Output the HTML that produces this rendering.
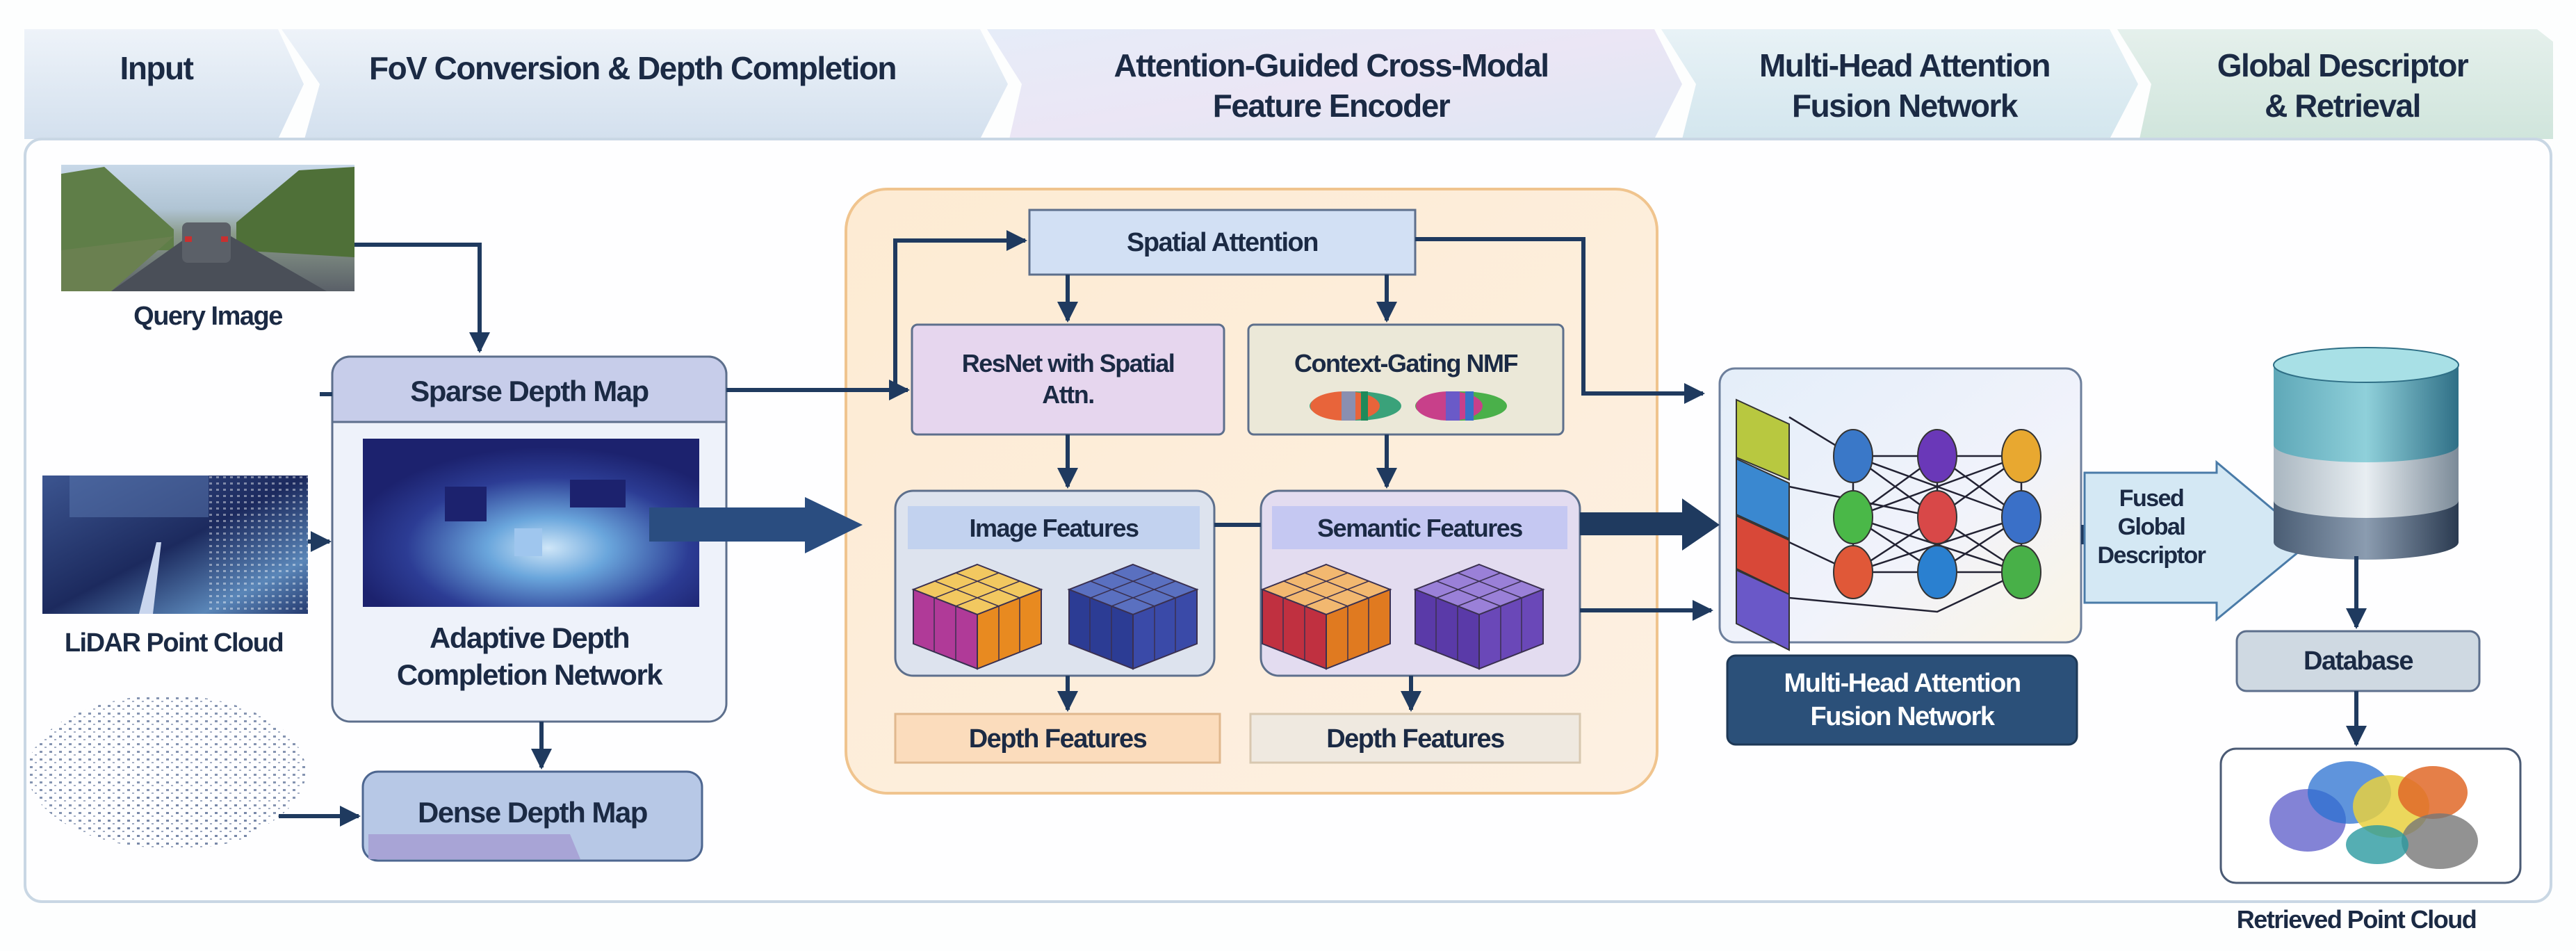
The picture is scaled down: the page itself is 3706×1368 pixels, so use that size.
<!DOCTYPE html>
<html><head><meta charset="utf-8"><style>
*{margin:0;padding:0;box-sizing:border-box}
body{width:3706px;height:1368px;background:#fdfefe;position:relative;overflow:hidden;font-family:"Liberation Sans",sans-serif;color:#1b2a44}
.t{position:absolute;font-weight:bold;text-align:center;letter-spacing:-1.5px;white-space:nowrap;line-height:1.25}
</style></head><body>
<svg width="3706" height="1368" style="position:absolute;left:0;top:0">
<defs>
<linearGradient id="h1" x1="0" y1="0" x2="0" y2="1"><stop offset="0" stop-color="#eef3f9"/><stop offset="1" stop-color="#d3e0ee"/></linearGradient>
<linearGradient id="h2" x1="0" y1="0" x2="1" y2="1"><stop offset="0" stop-color="#e6ecf8"/><stop offset=".5" stop-color="#ebe6f5"/><stop offset="1" stop-color="#dde6f3"/></linearGradient>
<linearGradient id="h3" x1="0" y1="0" x2="0" y2="1"><stop offset="0" stop-color="#e8f2f6"/><stop offset="1" stop-color="#d3e6ee"/></linearGradient>
<linearGradient id="h4" x1="0" y1="0" x2="0" y2="1"><stop offset="0" stop-color="#e5f0ec"/><stop offset="1" stop-color="#d0e5dc"/></linearGradient>
<linearGradient id="sky" x1="0" y1="0" x2="0" y2="1"><stop offset="0" stop-color="#c8d8e8"/><stop offset=".35" stop-color="#b0c4d4"/><stop offset=".55" stop-color="#8a9a8a"/><stop offset="1" stop-color="#5a6068"/></linearGradient>
<linearGradient id="lid" x1="0" y1="0" x2="1" y2="1"><stop offset="0" stop-color="#3c5590"/><stop offset=".5" stop-color="#1c2a5e"/><stop offset=".8" stop-color="#5a86b8"/><stop offset="1" stop-color="#253a70"/></linearGradient>
<radialGradient id="dep" cx=".55" cy=".65" r=".6"><stop offset="0" stop-color="#cfe6f8"/><stop offset=".3" stop-color="#6aa6dc"/><stop offset=".7" stop-color="#2c3c94"/><stop offset="1" stop-color="#1c226e"/></radialGradient>
<linearGradient id="orng" x1="0" y1="0" x2="1" y2="1"><stop offset="0" stop-color="#fdebd3"/><stop offset="1" stop-color="#fdf0e2"/></linearGradient>
<linearGradient id="db1" x1="0" y1="0" x2="1" y2="0"><stop offset="0" stop-color="#5fa8b8"/><stop offset=".5" stop-color="#8fd0da"/><stop offset="1" stop-color="#2f6f86"/></linearGradient>
<linearGradient id="db2" x1="0" y1="0" x2="1" y2="0"><stop offset="0" stop-color="#a9b6c0"/><stop offset=".5" stop-color="#e8eef2"/><stop offset="1" stop-color="#7b8a98"/></linearGradient>
<linearGradient id="db3" x1="0" y1="0" x2="1" y2="0"><stop offset="0" stop-color="#4a5d74"/><stop offset=".5" stop-color="#8b9cb0"/><stop offset="1" stop-color="#2a3a50"/></linearGradient>
<linearGradient id="mha" x1="0" y1="0" x2="1" y2="1"><stop offset="0" stop-color="#e4eef9"/><stop offset=".6" stop-color="#f1f3fb"/><stop offset="1" stop-color="#fbf4e4"/></linearGradient>
<marker id="a" viewBox="0 0 10 10" refX="9" refY="5" markerWidth="5" markerHeight="5" orient="auto"><path d="M0,0L10,5L0,10z" fill="#1f3a5f"/></marker>
<pattern id="pts" width="14" height="11" patternUnits="userSpaceOnUse"><rect x="1" y="2" width="4" height="3" fill="#7888a8"/><rect x="8" y="7" width="3" height="2" fill="#9aa6bf"/></pattern>
<pattern id="pts2" width="10" height="9" patternUnits="userSpaceOnUse"><rect x="1" y="1" width="4" height="3" fill="#fff" opacity=".6"/></pattern>
</defs>
<polygon points="35,42 400,42 437,121 400,200 35,200" fill="url(#h1)"/>
<polygon points="405,42 1410,42 1450,121 1410,200 438,200 460,121" fill="url(#h1)"/>
<polygon points="1420,42 2380,42 2420,121 2380,200 1452,200 1470,121" fill="url(#h2)"/>
<polygon points="2390,42 3035,42 3076,121 3035,200 2420,200 2440,121" fill="url(#h3)"/>
<polygon points="3046,42 3650,42 3673,60 3673,200 3078,200 3095,121" fill="url(#h4)"/>
<rect x="36" y="200" width="3634" height="1097" rx="24" fill="#fefeff" stroke="#c9d7e4" stroke-width="4"/>
<!-- query image -->
<rect x="88" y="237" width="422" height="182" fill="url(#sky)"/>
<polygon points="88,250 150,240 250,330 250,360 88,360" fill="#5f7e48"/>
<polygon points="510,240 430,245 340,320 340,360 510,370" fill="#4f7038"/>
<polygon points="160,419 285,330 315,330 470,419" fill="#4a4f58"/>
<polygon points="88,360 250,340 160,419 88,419" fill="#6a8050"/>
<rect x="262" y="320" width="70" height="58" rx="8" fill="#5b6068"/>
<rect x="266" y="340" width="10" height="8" fill="#c83030"/><rect x="318" y="340" width="10" height="8" fill="#c83030"/>
<!-- lidar -->
<rect x="61" y="684" width="382" height="199" fill="url(#lid)"/>
<rect x="100" y="684" width="200" height="60" fill="#5a78b0" opacity=".5"/>
<rect x="300" y="684" width="143" height="199" fill="url(#pts2)" opacity=".7"/>
<polygon points="200,883 225,780 232,780 220,883" fill="#c9d6ee"/>
<ellipse cx="240" cy="1110" rx="200" ry="110" fill="url(#pts)" opacity=".9"/>
<ellipse cx="260" cy="1180" rx="120" ry="40" fill="url(#pts)"/>
<rect x="1217" y="272" width="1167" height="869" rx="60" fill="url(#orng)" stroke="#f0c48e" stroke-width="4"/>
<g>
<rect x="478" y="513" width="567" height="525" rx="26" fill="#eef2fa" stroke="#5d6f8c" stroke-width="3"/>
<path d="M478,607 V539 a26,26 0 0 1 26,-26 H1019 a26,26 0 0 1 26,26 V607z" fill="#c7cdea" stroke="#5d6f8c" stroke-width="3"/>
<rect x="522" y="631" width="484" height="242" fill="url(#dep)"/>
<rect x="640" y="700" width="60" height="50" fill="#1c226e"/><rect x="820" y="690" width="80" height="40" fill="#1c226e"/><rect x="740" y="760" width="40" height="40" fill="#9fc6ee"/>
</g>
<rect x="522" y="1110" width="488" height="128" rx="22" fill="#b7c8e6" stroke="#4d6690" stroke-width="3"/>
<polygon points="530,1200 820,1200 835,1236 530,1236" fill="#a8a4d6"/>
<rect x="1481" y="302" width="555" height="93" fill="#d2e0f4" stroke="#5d6f8c" stroke-width="3"/>
<rect x="1312" y="467" width="449" height="158" rx="8" fill="#e6d6ee" stroke="#5d6f8c" stroke-width="3"/>
<rect x="1796" y="467" width="453" height="158" rx="8" fill="#ebe8d8" stroke="#5d6f8c" stroke-width="3"/>
<ellipse cx="1950" cy="584" rx="66" ry="21" fill="#3aa27a"/><ellipse cx="1935" cy="584" rx="50" ry="21" fill="#e8643a"/><rect x="1930" y="563" width="20" height="42" fill="#8a8fb0"/><rect x="1958" y="563" width="10" height="42" fill="#1f8a5a"/>
<ellipse cx="2102" cy="584" rx="66" ry="21" fill="#4ab04a"/><ellipse cx="2085" cy="584" rx="48" ry="21" fill="#c8408a"/><rect x="2080" y="563" width="20" height="42" fill="#6a5ac8"/><rect x="2108" y="563" width="12" height="42" fill="#3a70c8"/>
<rect x="1288" y="706" width="459" height="266" rx="26" fill="#dde3ee" stroke="#5d6f8c" stroke-width="3"/>
<rect x="1306" y="728" width="420" height="62" fill="#c2d2ef"/>
<rect x="1814" y="706" width="459" height="266" rx="26" fill="#e3dcf0" stroke="#5d6f8c" stroke-width="3"/>
<rect x="1830" y="728" width="425" height="62" fill="#c5c8f2"/>
<rect x="1288" y="1027" width="467" height="70" fill="#fbdcbc" stroke="#e0b88e" stroke-width="3"/>
<rect x="1799" y="1027" width="474" height="70" fill="#efe9e0" stroke="#d8c8b0" stroke-width="3"/>
<!-- cubes (taller) -->
<g stroke="#3a3050" stroke-width="2">
<polygon points="1406,812 1498,848 1406,884 1314,848" fill="#f2c860"/>
<polygon points="1314,848 1406,884 1406,962 1314,926" fill="#b03a98"/>
<polygon points="1406,884 1498,848 1498,926 1406,962" fill="#e88a20"/>
<path d="M1345,836 L1437,872 M1375,824 L1467,860 M1345,860 L1437,824 M1375,872 L1467,836 M1344,860 V938 M1375,872 V950 M1437,872 V950 M1467,860 V938" fill="none" stroke-width="1.5"/>
<polygon points="1630,812 1722,848 1630,884 1538,848" fill="#5a70c0"/>
<polygon points="1538,848 1630,884 1630,962 1538,926" fill="#2c3c94"/>
<polygon points="1630,884 1722,848 1722,926 1630,962" fill="#3a4aa8"/>
<path d="M1569,836 L1661,872 M1599,824 L1691,860 M1569,860 L1661,824 M1599,872 L1691,836 M1568,860 V938 M1599,872 V950 M1661,872 V950 M1691,860 V938" fill="none" stroke-width="1.5"/>
<polygon points="1908,812 2000,848 1908,884 1816,848" fill="#f2b870"/>
<polygon points="1816,848 1908,884 1908,962 1816,926" fill="#c03040"/>
<polygon points="1908,884 2000,848 2000,926 1908,962" fill="#e07a20"/>
<path d="M1847,836 L1939,872 M1877,824 L1969,860 M1847,860 L1939,824 M1877,872 L1969,836 M1846,860 V938 M1877,872 V950 M1939,872 V950 M1969,860 V938" fill="none" stroke-width="1.5"/>
<polygon points="2128,812 2220,848 2128,884 2036,848" fill="#9a80d8"/>
<polygon points="2036,848 2128,884 2128,962 2036,926" fill="#5a3aa8"/>
<polygon points="2128,884 2220,848 2220,926 2128,962" fill="#6a48b8"/>
<path d="M2067,836 L2159,872 M2097,824 L2189,860 M2067,860 L2159,824 M2097,872 L2189,836 M2066,860 V938 M2097,872 V950 M2159,872 V950 M2189,860 V938" fill="none" stroke-width="1.5"/>
</g>
<rect x="2474" y="530" width="520" height="394" rx="22" fill="url(#mha)" stroke="#6d7f9c" stroke-width="3"/>
<g stroke="#223" stroke-width="2.5" fill="none">
<path d="M2574,600 L2666,656 L2908,656 M2574,700 L2787,744 M2574,780 L2666,823 L2908,823 M2574,860 L2787,880 L2908,823 M2666,656 L2787,744 L2908,656 L2666,744 L2787,656 L2908,744 L2666,656 M2666,744 L2787,823 L2908,744 L2666,823 L2787,744 L2908,823 L2666,744 M2666,656 L2666,823 M2787,656 L2787,823 M2908,656 L2908,823"/>
</g>
<g stroke="#333" stroke-width="2">
<polygon points="2498,575 2574,610 2574,690 2498,658" fill="#b8c840"/>
<polygon points="2498,660 2574,695 2574,775 2498,740" fill="#3a88d0"/>
<polygon points="2498,742 2574,777 2574,855 2498,818" fill="#d84838"/>
<polygon points="2498,820 2574,855 2574,935 2498,897" fill="#6a58c8"/>
<ellipse cx="2666" cy="656" rx="28" ry="38" fill="#3a78c8"/><ellipse cx="2787" cy="656" rx="28" ry="38" fill="#6a38b8"/><ellipse cx="2908" cy="656" rx="28" ry="38" fill="#e8a830"/>
<ellipse cx="2666" cy="744" rx="28" ry="38" fill="#4ab848"/><ellipse cx="2787" cy="744" rx="28" ry="38" fill="#d84848"/><ellipse cx="2908" cy="744" rx="28" ry="38" fill="#3a70c8"/>
<ellipse cx="2666" cy="823" rx="28" ry="38" fill="#e05838"/><ellipse cx="2787" cy="823" rx="28" ry="38" fill="#2a80d0"/><ellipse cx="2908" cy="823" rx="28" ry="38" fill="#48b048"/>
</g>
<rect x="2485" y="943" width="503" height="128" rx="12" fill="#2b5079" stroke="#1d3856" stroke-width="3"/>
<rect x="2994" y="755" width="12" height="28" fill="#1f3a5f"/>
<polygon points="2999,680 3189,680 3189,665 3325,779 3189,891 3189,867 2999,867" fill="#d4e8f4" stroke="#4a7ba8" stroke-width="3"/>
<path d="M3271,720 V780 a133,25 0 0 0 266,0 V720z" fill="url(#db3)"/>
<path d="M3271,640 V720 a133,25 0 0 0 266,0 V640z" fill="url(#db2)"/>
<path d="M3271,525 V640 a133,25 0 0 0 266,0 V525z" fill="url(#db1)"/>
<ellipse cx="3404" cy="525" rx="133" ry="25" fill="#a8e0e6" stroke="#2f6f86" stroke-width="2"/>
<rect x="3218" y="908" width="349" height="86" rx="14" fill="#cfd9e2" stroke="#5d6f8c" stroke-width="3"/>
<rect x="3195" y="1077" width="431" height="193" rx="22" fill="#fff" stroke="#4a5a74" stroke-width="3"/>
<ellipse cx="3320" cy="1180" rx="55" ry="45" fill="#5a5ac8" opacity=".75"/>
<ellipse cx="3380" cy="1140" rx="60" ry="45" fill="#2a70d0" opacity=".75"/>
<ellipse cx="3440" cy="1160" rx="55" ry="45" fill="#e8d040" opacity=".85"/>
<ellipse cx="3500" cy="1140" rx="50" ry="38" fill="#e06828" opacity=".85"/>
<ellipse cx="3510" cy="1210" rx="55" ry="40" fill="#777" opacity=".8"/>
<ellipse cx="3420" cy="1215" rx="45" ry="28" fill="#2a9aa0" opacity=".8"/>
<g stroke="#1f3a5f" stroke-width="6" fill="none" marker-end="url(#a)">
<path d="M510,352 H690 V505"/>
<path d="M443,779 H474"/>
<path d="M779,1038 V1104"/>
<path d="M401,1174 H516"/>
<path d="M1045,561 H1306"/>
<path d="M1288,561 V346 H1475"/>
<path d="M1536,395 V461"/>
<path d="M1995,395 V461"/>
<path d="M2036,344 H2278 V566 H2450"/>
<path d="M1536,625 V700"/>
<path d="M1995,625 V700"/>
<path d="M1536,972 V1021"/>
<path d="M2030,972 V1021"/>
<path d="M2273,878 H2462"/>
<path d="M3390,800 V902"/>
<path d="M3390,994 V1071"/>
</g>
<path d="M460,567 H478" stroke="#1f3a5f" stroke-width="6"/>
<path d="M1747,755 H1814" stroke="#1f3a5f" stroke-width="6"/>
<polygon points="934,730 1158,730 1158,715 1241,755 1158,796 1158,779 934,779" fill="#2a4d80"/>
<polygon points="2273,737 2420,737 2420,717 2474,755 2420,792 2420,770 2273,770" fill="#1f3a5f"/>
</svg>
<div class="t" style="left:35px;width:380px;top:70px;font-size:46px">Input</div>
<div class="t" style="left:460px;width:900px;top:70px;font-size:46px">FoV Conversion &amp; Depth Completion</div>
<div class="t" style="left:1450px;width:930px;top:66px;font-size:46px">Attention-Guided Cross-Modal<br>Feature Encoder</div>
<div class="t" style="left:2430px;width:620px;top:66px;font-size:46px">Multi-Head Attention<br>Fusion Network</div>
<div class="t" style="left:3080px;width:580px;top:66px;font-size:46px">Global Descriptor<br>&amp; Retrieval</div>
<div class="t" style="left:88px;width:422px;top:432px;font-size:38px">Query Image</div>
<div class="t" style="left:40px;width:420px;top:902px;font-size:38px">LiDAR Point Cloud</div>
<div class="t" style="left:478px;width:567px;top:537px;font-size:42px">Sparse Depth Map</div>
<div class="t" style="left:478px;width:567px;top:892px;font-size:42px">Adaptive Depth<br>Completion Network</div>
<div class="t" style="left:522px;width:488px;top:1143px;font-size:42px">Dense Depth Map</div>
<div class="t" style="left:1481px;width:555px;top:326px;font-size:38px">Spatial Attention</div>
<div class="t" style="left:1312px;width:449px;top:500px;font-size:36px">ResNet with Spatial<br>Attn.</div>
<div class="t" style="left:1796px;width:453px;top:500px;font-size:36px">Context-Gating NMF</div>
<div class="t" style="left:1306px;width:420px;top:737px;font-size:36px">Image Features</div>
<div class="t" style="left:1830px;width:425px;top:737px;font-size:36px">Semantic Features</div>
<div class="t" style="left:1288px;width:467px;top:1040px;font-size:38px">Depth Features</div>
<div class="t" style="left:1799px;width:474px;top:1040px;font-size:38px">Depth Features</div>
<div class="t" style="left:2485px;width:503px;top:960px;font-size:38px;color:#fff">Multi-Head Attention<br>Fusion Network</div>
<div class="t" style="left:3000px;width:190px;top:697px;font-size:34px;line-height:1.2">Fused<br>Global<br>Descriptor</div>
<div class="t" style="left:3218px;width:349px;top:928px;font-size:38px">Database</div>
<div class="t" style="left:3170px;width:440px;top:1300px;font-size:36px">Retrieved Point Cloud</div>
</body></html>
